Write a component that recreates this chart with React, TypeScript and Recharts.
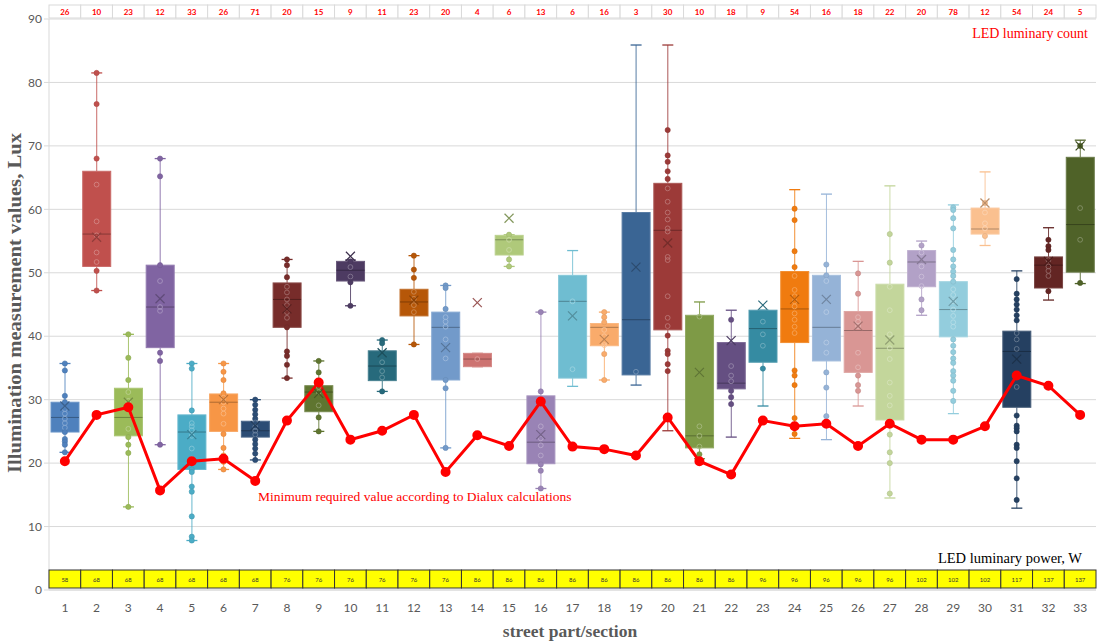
import { ComposedChart, Bar, Line, Scatter, XAxis, YAxis, CartesianGrid } from 'recharts'

const CATEGORIES = [1, 2, 3, 4, 5, 6, 7, 8, 9, 10, 11, 12, 13, 14, 15, 16, 17, 18, 19, 20, 21, 22, 23, 24, 25, 26, 27, 28, 29, 30, 31, 32, 33]

const W_MIN = [21.7, 47.2, 13.1, 22.9, 7.8, 19.0, 20.5, 33.4, 25.0, 44.8, 31.3, 38.7, 22.4, 35.2, 51.0, 16.0, 32.1, 33.1, 32.3, 25.1, 20.7, 24.1, 29.0, 23.9, 23.7, 29.0, 14.5, 43.3, 27.8, 54.3, 12.9, 45.7, 48.3]
const Q1 = [24.9, 51.0, 24.3, 38.2, 19.0, 25.0, 24.1, 41.4, 28.1, 48.7, 33.0, 43.2, 33.1, 35.2, 52.8, 19.9, 33.4, 38.5, 33.9, 41.0, 22.4, 31.7, 35.9, 39.0, 36.1, 34.3, 26.8, 47.8, 39.9, 56.1, 28.8, 47.6, 50.1]
const MEDIAN = [27.2, 56.1, 27.2, 44.6, 24.9, 29.6, 25.1, 45.8, 31.2, 50.4, 35.3, 45.4, 41.4, 36.4, 55.2, 23.3, 45.5, 41.4, 42.6, 56.7, 24.3, 32.6, 41.2, 44.3, 41.4, 40.9, 38.1, 51.7, 44.2, 56.9, 37.6, 51.2, 57.6]
const Q3 = [29.6, 66.0, 31.8, 51.2, 27.6, 30.9, 26.6, 48.4, 32.2, 51.8, 37.7, 47.4, 43.8, 37.3, 55.9, 30.6, 49.6, 42.0, 59.5, 64.1, 43.3, 39.0, 44.1, 50.2, 49.6, 43.9, 48.2, 53.5, 48.6, 60.2, 40.8, 52.5, 68.2]
const W_MAX = [35.7, 81.5, 40.3, 68.0, 35.7, 35.7, 30.0, 52.1, 36.1, 52.0, 39.4, 52.7, 48.0, 37.3, 56.0, 43.8, 53.5, 43.8, 85.9, 85.9, 45.4, 44.1, 44.1, 63.1, 62.4, 51.8, 63.7, 55.0, 60.7, 65.9, 50.3, 57.1, 70.9]
const MEAN = [29.0, 55.6, 29.6, 45.9, 24.5, 30.0, 25.9, 44.3, 31.0, 52.6, 37.4, 45.7, 38.2, 45.3, 58.6, 24.5, 43.2, 39.5, 50.9, 54.7, 34.3, 39.3, 44.9, 45.8, 45.8, 41.6, 39.4, 52.1, 45.5, 61.0, 36.4, 51.8, 70.0]

const MIN_REQUIRED = [20.3, 27.6, 28.8, 15.7, 20.3, 20.7, 17.2, 26.7, 32.7, 23.7, 25.1, 27.6, 18.6, 24.4, 22.7, 29.7, 22.6, 22.2, 21.2, 27.2, 20.3, 18.2, 26.7, 25.8, 26.2, 22.7, 26.2, 23.7, 23.7, 25.8, 33.8, 32.2, 27.6]

const LUMINARY_COUNT = [26, 10, 23, 12, 33, 26, 71, 20, 15, 9, 11, 23, 20, 4, 6, 13, 6, 16, 3, 30, 10, 18, 9, 54, 16, 18, 22, 20, 78, 12, 54, 24, 5]
const LUMINARY_POWER = [58, 68, 68, 68, 68, 68, 68, 76, 76, 76, 76, 76, 76, 86, 86, 86, 86, 86, 86, 86, 86, 86, 96, 96, 96, 96, 96, 102, 102, 102, 117, 137, 137]

const POINTS: number[][] = [
    [35.7, 34.6, 30.6, 29.6, 28.5, 27.8, 27.0, 26.3, 25.6, 24.9, 23.8, 23.4, 22.9, 21.7],
    [81.5, 76.6, 68.0, 63.9, 58.1, 55.9, 53.2, 51.7, 50.3, 47.2],
    [40.3, 36.6, 33.1, 31.2, 29.8, 29.0, 25.4, 24.1, 22.9, 21.6, 13.1],
    [68.0, 65.2, 51.2, 48.7, 44.6, 44.0, 37.4, 36.1, 22.9],
    [35.7, 34.9, 28.3, 26.3, 25.8, 25.2, 24.3, 22.3, 20.7, 19.0, 18.6, 16.3, 15.5, 11.6, 8.4, 7.8],
    [35.7, 34.4, 33.1, 31.0, 30.3, 29.6, 28.6, 27.8, 26.2, 24.6, 22.4, 21.2, 20.2, 19.0],
    [30.0, 29.2, 28.4, 27.7, 27.0, 26.4, 25.7, 25.1, 24.5, 23.7, 23.0, 22.3, 21.5, 20.5],
    [52.1, 51.2, 49.3, 47.8, 46.9, 45.8, 44.9, 43.8, 42.9, 41.4, 37.6, 36.9, 35.5, 33.4],
    [36.1, 34.3, 32.0, 31.2, 29.1, 27.2, 25.0],
    [51.8, 50.9, 49.4, 48.5, 44.8],
    [39.4, 38.9, 35.9, 34.5, 33.5, 31.3],
    [52.7, 50.5, 49.2, 47.0, 45.9, 44.9, 43.8, 38.7],
    [48.0, 47.6, 44.3, 43.0, 42.3, 41.5, 39.5, 36.5, 33.1, 31.8, 22.4],
    [36.4],
    [56.0, 55.2, 53.6, 52.1, 51.0],
    [43.8, 31.3, 25.8, 23.9, 22.8, 21.2, 19.8, 18.8, 16.0],
    [45.5, 34.8],
    [43.8, 43.0, 42.2, 41.0, 40.0, 39.0, 38.6, 37.2, 33.1],
    [34.4],
    [72.5, 68.5, 67.5, 66.0, 64.8, 63.3, 61.2, 59.5, 58.4, 57.0, 56.5, 52.5, 52.0, 46.3, 42.9, 41.6, 40.1, 37.7, 37.2, 35.6, 34.5],
    [43.1, 25.8, 24.3, 22.6, 21.4],
    [42.6, 35.3, 33.8, 32.9, 31.4, 30.4, 29.3],
    [42.3, 40.3, 38.5, 34.9],
    [60.1, 58.3, 53.4, 50.9, 49.5, 47.3, 46.3, 45.5, 44.7, 43.6, 42.6, 41.5, 40.5, 34.6, 33.8, 32.3, 27.1, 25.7, 24.6],
    [51.3, 49.6, 48.7, 43.8, 39.0, 37.4, 34.3, 31.9, 27.4],
    [49.9, 46.7, 43.0, 42.3, 41.6, 37.4, 35.1, 33.8, 32.3, 31.4],
    [56.1, 51.6, 47.8, 44.1, 40.3, 38.1, 36.4, 32.7, 30.6, 29.1, 24.5, 21.7, 20.0, 15.2],
    [54.3, 53.2, 51.0, 49.4, 47.9, 45.8, 44.1],
    [60.3, 59.9, 58.6, 57.0, 53.6, 52.1, 51.0, 50.2, 49.5, 48.6, 47.4, 46.5, 45.5, 44.2, 43.2, 42.2, 41.5, 39.5, 38.5, 37.5, 36.5, 35.8, 34.5, 33.8, 33.0, 31.4, 29.8],
    [61.0, 59.5, 57.8, 57.0, 55.8],
    [49.0, 46.7, 45.8, 45.0, 44.2, 43.3, 42.5, 40.5, 39.5, 38.0, 33.9, 32.0, 27.5, 25.9, 25.5, 25.0, 22.9, 22.4, 20.3, 17.6, 14.2],
    [55.2, 54.2, 53.6, 52.0, 51.0, 50.3, 49.5, 47.1],
    [70.0, 60.2, 55.2, 48.4],
]

const COLORS = [
    '#4F81BD', '#C0504D', '#9BBB59', '#8064A2', '#4BACC6', '#F79646', '#2C4D75', '#772C2A', '#5F7530', '#4D3B62', '#276A7C',
    '#B65708', '#729ACA', '#CD7371', '#AFC97A', '#9983B5', '#6FBDD1', '#F9AB6B', '#3A6594', '#9C3A38', '#7E9A46', '#654F82',
    '#358BA2', '#F07B0F', '#95B3D7', '#D99694', '#C3D69B', '#B2A1C7', '#93CDDD', '#FAC08F', '#254061', '#632523', '#4F6228',
]

const Y_TICKS = [0, 10, 20, 30, 40, 50, 60, 70, 80, 90]

const BAND = 1047 / 33
const GRID = '#d9d9d9'
const AXIS_TEXT = '#595959'
const SERIF = '"Liberation Serif", "Times New Roman", serif'
const SANS = 'Lato, "Open Sans", sans-serif'

function shade(hex: string, amt: number) {
    const n = parseInt(hex.slice(1), 16)
    const ch = [(n >> 16) & 255, (n >> 8) & 255, n & 255].map(c =>
        Math.round(amt < 0 ? c * (1 + amt) : c + (255 - c) * amt)
    )
    return `rgb(${ch[0]},${ch[1]},${ch[2]})`
}

const rows = CATEGORIES.map((cat, i) => ({
    cat,
    wMin: W_MIN[i],
    q1: Q1[i],
    median: MEDIAN[i],
    q3: Q3[i],
    wMax: W_MAX[i],
    minReq: MIN_REQUIRED[i],
    color: COLORS[i],
}))

const points = CATEGORIES.flatMap((cat, i) =>
    POINTS[i].map(v => ({ cat, v, color: COLORS[i], inside: v > Q1[i] && v < Q3[i] }))
)

const means = CATEGORIES.map((cat, i) => ({ cat, mean: MEAN[i], color: COLORS[i] }))

function BoxShape(props: any) {
    const { x, y, width, height, payload } = props
    const top = Math.min(y, y + height)
    const h = Math.abs(height)
    const ppu = h / (payload.q3 - payload.q1)
    const yOf = (v: number) => top + (payload.q3 - v) * ppu
    const cx = x + width / 2
    const c = payload.color
    const cap = 5.5
    const yMax = yOf(payload.wMax)
    const yMin = yOf(payload.wMin)
    return (
        <g>
            <line x1={cx} x2={cx} y1={yMax} y2={top} stroke={c} strokeOpacity={0.85} />
            <line x1={cx} x2={cx} y1={top + h} y2={yMin} stroke={c} strokeOpacity={0.85} />
            <line x1={cx - cap} x2={cx + cap} y1={yMax} y2={yMax} stroke={c} strokeWidth={1.3} />
            <line x1={cx - cap} x2={cx + cap} y1={yMin} y2={yMin} stroke={c} strokeWidth={1.3} />
            <rect x={x} y={top} width={width} height={h} fill={c} stroke={shade(c, 0.15)} />
            <line x1={x} x2={x + width} y1={yOf(payload.median)} y2={yOf(payload.median)} stroke={shade(c, -0.3)} />
        </g>
    )
}

function PointShape(props: any) {
    const { cx, cy, payload } = props
    if (payload.inside) {
        return <circle cx={cx} cy={cy} r={2.4} fill="none" stroke={shade(payload.color, 0.3)} strokeWidth={0.9} />
    }
    return <circle cx={cx} cy={cy} r={2.6} fill={payload.color} stroke={shade(payload.color, -0.1)} strokeWidth={0.6} />
}

function MeanShape(props: any) {
    const { cx, cy, payload } = props
    const s = 4.5
    const c = shade(payload.color, -0.25)
    return (
        <g>
            <line x1={cx - s} x2={cx + s} y1={cy - s} y2={cy + s} stroke={c} strokeWidth={1.2} />
            <line x1={cx - s} x2={cx + s} y1={cy + s} y2={cy - s} stroke={c} strokeWidth={1.2} />
        </g>
    )
}

function CountTick(props: any) {
    const { x, payload } = props
    const i = payload.value - 1
    return (
        <g>
            <rect x={x - BAND / 2} y={5} width={BAND} height={13} fill="#fff" stroke={GRID} />
            <text x={x} y={14.5} textAnchor="middle" fontSize={8} fontWeight="bold" fill="#ff0000" fontFamily={SANS}>
                {LUMINARY_COUNT[i]}
            </text>
        </g>
    )
}

function PowerTick(props: any) {
    const { x, payload } = props
    const i = payload.value - 1
    return (
        <g>
            <rect x={x - BAND / 2} y={570} width={BAND} height={18} fill="#ffff00" stroke="#333" strokeWidth={1} />
            <text x={x} y={581.5} textAnchor="middle" fontSize={6} fill="#333" fontFamily={SANS}>
                {LUMINARY_POWER[i]}
            </text>
            <text x={x} y={611.5} textAnchor="middle" fontSize={12} fill={AXIS_TEXT} fontFamily={SANS}>
                {payload.value}
            </text>
        </g>
    )
}

export default function App() {
    return (
        <div style={{ position: 'absolute', left: 0, top: 0, width: 1102, height: 644, background: '#fff' }}>
            <ComposedChart width={1102} height={644} data={rows} margin={{ top: 0, right: 6, bottom: 0, left: 0 }}>
                <CartesianGrid vertical={false} stroke={GRID} />
                <XAxis
                    xAxisId="top"
                    orientation="top"
                    dataKey="cat"
                    type="number"
                    domain={[0.5, 33.5]}
                    ticks={CATEGORIES}
                    interval={0}
                    height={19}
                    axisLine={false}
                    tickLine={false}
                    tick={<CountTick />}
                />
                <XAxis
                    dataKey="cat"
                    type="number"
                    domain={[0.5, 33.5]}
                    ticks={CATEGORIES}
                    interval={0}
                    height={54}
                    axisLine={{ stroke: GRID }}
                    tickLine={false}
                    tick={<PowerTick />}
                />
                <YAxis
                    width={49}
                    domain={[0, 90]}
                    ticks={Y_TICKS}
                    interval={0}
                    axisLine={{ stroke: GRID }}
                    tickLine={{ stroke: GRID }}
                    tickSize={5}
                    tick={{ fill: AXIS_TEXT, fontSize: 12, fontFamily: SANS }}
                />
                <Bar dataKey={(d: any) => [d.q1, d.q3]} barSize={28} shape={<BoxShape />} isAnimationActive={false} />
                <Scatter data={points} dataKey="v" shape={<PointShape />} isAnimationActive={false} />
                <Scatter data={means} dataKey="mean" shape={<MeanShape />} isAnimationActive={false} />
                <Line
                    dataKey="minReq"
                    stroke="#ff0000"
                    strokeWidth={3}
                    dot={{ r: 3.5, fill: '#ff0000', stroke: '#ff0000' }}
                    isAnimationActive={false}
                />
            </ComposedChart>
            <svg width={1102} height={644} style={{ position: 'absolute', left: 0, top: 0, pointerEvents: 'none' }}>
                <text x={1088} y={37.5} textAnchor="end" fontSize={14} fill="#ff0000" fontFamily={SERIF}>
                    LED luminary count
                </text>
                <text x={1082} y={563} textAnchor="end" fontSize={14.5} fill="#000" fontFamily={SERIF}>
                    LED luminary power, W
                </text>
                <text x={258} y={500.5} fontSize={13.5} fill="#ff0000" fontFamily={SERIF}>
                    Minimum required value according to Dialux calculations
                </text>
                <text
                    transform="translate(21, 303) rotate(-90)"
                    textAnchor="middle"
                    fontSize={19}
                    fontWeight="bold"
                    fill={AXIS_TEXT}
                    fontFamily={SERIF}
                    textLength={340}
                    lengthAdjust="spacingAndGlyphs"
                >
                    Illumination measurement values, Lux
                </text>
                <text x={570} y={637} textAnchor="middle" fontSize={17.5} fontWeight="bold" fill={AXIS_TEXT} fontFamily={SERIF}>
                    street part/section
                </text>
            </svg>
        </div>
    )
}
